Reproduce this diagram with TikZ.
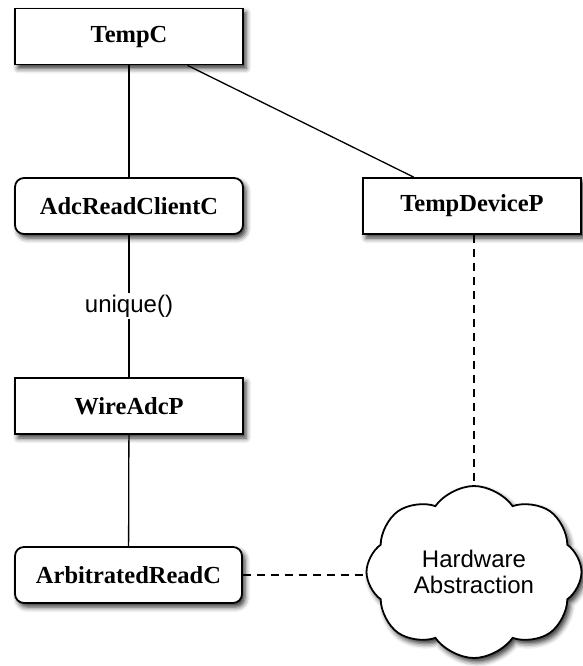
\documentclass[tikz,border=0pt]{standalone}
\usepackage{fontspec}
\setmainfont{Liberation Serif}
\setsansfont{Liberation Sans}
\usetikzlibrary{shapes.symbols,shadows.blur}

\tikzset{
  softshadow/.style={blur shadow={shadow xshift=3pt, shadow yshift=-4pt,
      shadow blur radius=5pt, shadow opacity=80}},
  comp/.style={draw=black, line width=1.8pt, fill=white,
    minimum width=228pt, minimum height=56pt, inner sep=0pt,
    font=\fontsize{24.5}{28}\selectfont\bfseries, softshadow},
  roundcomp/.style={comp, rounded corners=9pt},
  link/.style={line width=1.3pt},
  dashlink/.style={line width=1.3pt, dash pattern=on 8pt off 6pt},
  sanslabel/.style={font=\sffamily\fontsize{24}{28}\selectfont}
}

\begin{document}
\begin{tikzpicture}[x=1pt,y=-1pt]
  \useasboundingbox (0,0) rectangle (582,666);

  % component boxes
  \node[comp] (tempc) at (129,36.5) {TempC};
  \node[roundcomp] (adcread) at (129,206) {AdcReadClientC};
  \node[comp, minimum width=218pt] (tempdev) at (472,206) {TempDeviceP};
  \node[comp] (wireadc) at (129,406) {WireAdcP};
  \node[roundcomp, minimum width=227pt] (arbread) at (128.5,575) {ArbitratedReadC};

  % hardware abstraction cloud
  \node[cloud, draw=black, line width=1.8pt, fill=white, sanslabel,
        align=center, cloud puffs=8, cloud puff arc=110, aspect=1.25,
        minimum width=215pt, minimum height=172pt, inner sep=0pt,
        softshadow]
        (hw) at (474,572) {Hardware\\[-2pt]Abstraction};

  % connectors
  \draw[link] (tempc) -- (adcread);
  \draw[link] (tempc) -- (tempdev);
  \draw[link] (adcread) -- (wireadc)
    node[midway, fill=white, inner sep=2pt, sanslabel] (uniq) {unique()};
  \draw[link] (wireadc) -- (arbread);
  \draw[dashlink] (hw.north |- tempdev.south) -- (hw.north);
  \draw[dashlink] (arbread.east) -- (arbread.east -| hw.west);
\end{tikzpicture}
\end{document}
